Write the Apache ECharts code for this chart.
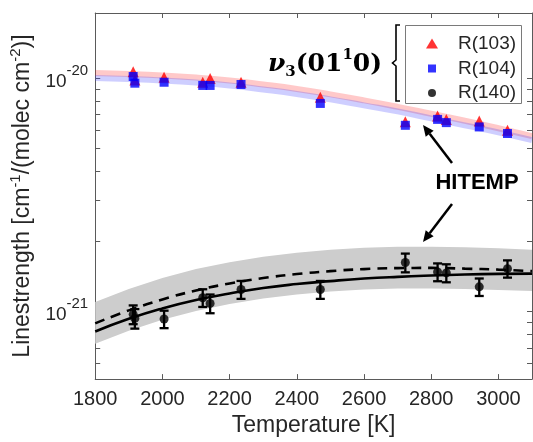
<!DOCTYPE html>
<html><head><meta charset="utf-8">
<script src="https://cdn.jsdelivr.net/npm/echarts@6/dist/echarts.min.js"></script>
<style>html,body{margin:0;padding:0;background:#fff}#c{width:533px;height:442px}</style>
</head><body><div id="c"></div>
<script>
// ---- measured data ----
const measTemps = [1913, 1918, 2005, 2120, 2142, 2234, 2470, 2723, 2819, 2845, 2943, 3027];
const r103 = [1.068e-20, 0.985e-20, 1.013e-20, 0.964e-20, 1.000e-20, 0.964e-20, 0.832e-20, 0.653e-20, 0.690e-20, 0.668e-20, 0.657e-20, 0.600e-20];
const r104 = [1.020e-20, 0.955e-20, 0.964e-20, 0.934e-20, 0.934e-20, 0.943e-20, 0.782e-20, 0.630e-20, 0.668e-20, 0.647e-20, 0.620e-20, 0.581e-20];
const r140 = [0.974e-21, 0.936e-21, 0.930e-21, 1.148e-21, 1.085e-21, 1.245e-21, 1.245e-21, 1.625e-21, 1.481e-21, 1.467e-21, 1.278e-21, 1.530e-21];
const r140Err = [0.09e-21, 0.09e-21, 0.08e-21, 0.10e-21, 0.10e-21, 0.11e-21, 0.11e-21, 0.15e-21, 0.13e-21, 0.13e-21, 0.11e-21, 0.13e-21];
// ---- model curves ----
const curveTemps = [1800, 1900, 2000, 2100, 2200, 2300, 2400, 2500, 2600, 2700, 2800, 2900, 3000, 3100];
const hitemp103 = [1.056e-20, 1.045e-20, 1.030e-20, 1.010e-20, 0.981e-20, 0.943e-20, 0.902e-20, 0.855e-20, 0.806e-20, 0.756e-20, 0.706e-20, 0.659e-20, 0.612e-20, 0.566e-20];
const hitemp104 = [1.005e-20, 0.995e-20, 0.981e-20, 0.961e-20, 0.934e-20, 0.898e-20, 0.859e-20, 0.814e-20, 0.767e-20, 0.723e-20, 0.675e-20, 0.630e-20, 0.588e-20, 0.544e-20];
const fit140 = [0.822e-21, 0.932e-21, 1.033e-21, 1.123e-21, 1.197e-21, 1.264e-21, 1.314e-21, 1.353e-21, 1.387e-21, 1.411e-21, 1.429e-21, 1.443e-21, 1.453e-21, 1.457e-21];
const hitemp140 = [0.891e-21, 1.013e-21, 1.128e-21, 1.233e-21, 1.321e-21, 1.394e-21, 1.450e-21, 1.493e-21, 1.523e-21, 1.538e-21, 1.541e-21, 1.530e-21, 1.515e-21, 1.493e-21];
const hitemp140Hi = [1.101e-21, 1.251e-21, 1.394e-21, 1.523e-21, 1.631e-21, 1.722e-21, 1.791e-21, 1.845e-21, 1.881e-21, 1.900e-21, 1.900e-21, 1.891e-21, 1.872e-21, 1.845e-21];
const hitemp140Lo = [0.729e-21, 0.828e-21, 0.923e-21, 1.008e-21, 1.080e-21, 1.140e-21, 1.185e-21, 1.221e-21, 1.245e-21, 1.257e-21, 1.257e-21, 1.251e-21, 1.239e-21, 1.227e-21];
// ---- axes ----
const xMin = 1800, xMax = 3100, xStep = 200;
const yMin = 5.14e-22, yMax = 1.91e-20;
const yLabelValues = [1e-21, 1e-20];
const yTickValues = [6e-22, 7e-22, 8e-22, 9e-22, 1e-21, 2e-21, 3e-21, 4e-21, 5e-21, 6e-21, 7e-21, 8e-21, 9e-21, 1e-20];

const FONT = '"Liberation Sans", Arial, sans-serif';
const TXT = '#262626';
const AX = '#5a5a5a';

const chart = echarts.init(document.getElementById('c'), null, {renderer: 'canvas'});

const zip = (xs, ys) => xs.map((x, i) => [x, ys[i]]);

function arrow(x1, y1, x2, y2) {
  const ang = Math.atan2(y2 - y1, x2 - x1), L = 11, W = 5;
  const bx = x2 - L * Math.cos(ang), by = y2 - L * Math.sin(ang);
  const px = -Math.sin(ang) * W, py = Math.cos(ang) * W;
  return [
    {type: 'line', shape: {x1: x1, y1: y1, x2: bx, y2: by}, style: {stroke: '#000', lineWidth: 2.5}},
    {type: 'polygon', shape: {points: [[x2, y2], [bx + px, by + py], [bx - px, by - py]]}, style: {fill: '#000'}}
  ];
}

function legendFor(name, left, top, w, h, padLeft) {
  return {
    orient: 'vertical', padding: 0, itemWidth: w, itemHeight: h, itemGap: 0,
    left: left, top: top, selectedMode: false, data: [name],
    textStyle: {fontFamily: FONT, fontSize: 19, color: TXT, lineHeight: 20, padding: [0, 0, 0, padLeft]}
  };
}

const option = {
  backgroundColor: '#fff',
  animation: false,
  grid: {left: 95, top: 13, right: 1, bottom: 61, show: false},
  legend: [
    legendFor('R(103)', 426, 33.5, 12, 10, 15),
    legendFor('R(104)', 428, 58.5, 8, 8, 17),
    legendFor('R(140)', 428, 83, 8, 8, 17)
  ],
  xAxis: [
    {
      type: 'value', min: xMin, max: xMax, interval: xStep, position: 'bottom',
      axisLine: {show: true, onZero: false, lineStyle: {color: AX, width: 1}},
      axisTick: {show: true, inside: true, length: 5, lineStyle: {color: AX}},
      axisLabel: {fontFamily: FONT, fontSize: 20, color: TXT, margin: 10, showMaxLabel: false, formatter: v => String(v)},
      splitLine: {show: false},
      name: 'Temperature [K]', nameLocation: 'middle', nameGap: 34,
      nameTextStyle: {fontFamily: FONT, fontSize: 23, color: TXT}
    },
    {
      type: 'value', min: xMin, max: xMax, interval: xStep, position: 'top',
      axisLine: {show: true, onZero: false, lineStyle: {color: AX, width: 1}},
      axisTick: {show: true, inside: true, length: 5, lineStyle: {color: AX}},
      axisLabel: {show: false}, splitLine: {show: false}
    }
  ],
  yAxis: [
    {
      type: 'log', logBase: 10, min: yMin, max: yMax, position: 'left',
      axisLine: {show: true, onZero: false, lineStyle: {color: AX, width: 1}},
      axisTick: {show: true, inside: true, length: 5, customValues: yTickValues, lineStyle: {color: AX}},
      axisLabel: {
        customValues: yLabelValues, margin: 7,
        formatter: v => '{b|10}{s|' + Math.round(Math.log10(v)) + '}',
        rich: {
          b: {fontFamily: FONT, fontSize: 19, color: TXT, lineHeight: 26, padding: [6, 0, 0, 0]},
          s: {fontFamily: FONT, fontSize: 15, color: TXT, lineHeight: 14, padding: [0, 0, 13, 0], verticalAlign: 'bottom'}
        }
      },
      minorTick: {show: false}, splitLine: {show: false},
      name: '{n|Linestrength [cm}{s|-1}{n|/(molec cm}{s|-2}{n|)]}',
      nameLocation: 'middle', nameGap: 57, nameRotate: 90,
      nameTextStyle: {
        fontFamily: FONT, fontSize: 23, color: TXT,
        rich: {
          n: {fontFamily: FONT, fontSize: 23, color: TXT, lineHeight: 30},
          s: {fontFamily: FONT, fontSize: 15, color: TXT, lineHeight: 15, verticalAlign: 'top'}
        }
      }
    },
    {
      type: 'log', logBase: 10, min: yMin, max: yMax, position: 'right',
      axisLine: {show: true, onZero: false, lineStyle: {color: AX, width: 1}},
      axisTick: {show: true, inside: true, length: 5, customValues: yTickValues, lineStyle: {color: AX}},
      axisLabel: {show: false}, splitLine: {show: false}
    }
  ],
  series: [
    {
      name: 'HITEMP R(140) band', type: 'custom', clip: true, z: 1,
      data: curveTemps.map((t, i) => [t, hitemp140Lo[i], hitemp140Hi[i]]),
      encode: {x: 0, y: [1, 2]},
      renderItem: function (params, api) {
        if (params.dataIndex !== 0) return null;
        const pts = [];
        for (let i = 0; i < curveTemps.length; i++) pts.push(api.coord([curveTemps[i], hitemp140Hi[i]]));
        for (let i = curveTemps.length - 1; i >= 0; i--) pts.push(api.coord([curveTemps[i], hitemp140Lo[i]]));
        return {type: 'polygon', shape: {points: pts}, style: {fill: '#cdcdcd'}};
      }
    },
    {
      name: 'HITEMP R(103)', type: 'line', smooth: true, symbol: 'none', z: 2,
      data: zip(curveTemps, hitemp103),
      lineStyle: {color: 'rgba(255,60,60,0.28)', width: 6}
    },
    {
      name: 'HITEMP R(104)', type: 'line', smooth: true, symbol: 'none', z: 2,
      data: zip(curveTemps, hitemp104),
      lineStyle: {color: 'rgba(60,60,255,0.25)', width: 6}
    },
    {
      name: 'Fit R(140)', type: 'line', smooth: true, symbol: 'none', z: 3,
      data: zip(curveTemps, fit140),
      lineStyle: {color: '#000', width: 2.6}
    },
    {
      name: 'HITEMP R(140)', type: 'line', smooth: true, symbol: 'none', z: 3,
      data: zip(curveTemps, hitemp140),
      lineStyle: {color: '#000', width: 2.6, type: [10, 7]}
    },
    {
      name: 'R(103)', type: 'scatter', symbol: 'triangle', symbolSize: 11, z: 5,
      data: zip(measTemps, r103), itemStyle: {color: '#ff0000'}
    },
    {
      name: 'R(104)', type: 'scatter', symbol: 'rect', symbolSize: 9, z: 6,
      data: zip(measTemps, r104), itemStyle: {color: '#0000ff'}
    },
    {
      name: 'R(140) error', type: 'custom', z: 6,
      data: measTemps.map((t, i) => [t, r140[i] - r140Err[i], r140[i] + r140Err[i]]),
      encode: {x: 0, y: [1, 2]},
      renderItem: function (params, api) {
        const x = api.value(0);
        const a = api.coord([x, api.value(1)]), b = api.coord([x, api.value(2)]);
        const cw = 4.5, st = {stroke: '#000', lineWidth: 2.3};
        return {type: 'group', children: [
          {type: 'line', shape: {x1: a[0], y1: a[1], x2: b[0], y2: b[1]}, style: st},
          {type: 'line', shape: {x1: a[0] - cw, y1: a[1], x2: a[0] + cw, y2: a[1]}, style: st},
          {type: 'line', shape: {x1: b[0] - cw, y1: b[1], x2: b[0] + cw, y2: b[1]}, style: st}
        ]};
      }
    },
    {
      name: 'R(140)', type: 'scatter', symbol: 'circle', symbolSize: 9, z: 7,
      data: zip(measTemps, r140), itemStyle: {color: '#000'}
    }
  ],
  graphic: [
    {type: 'rect', shape: {x: 405.5, y: 25.5, width: 116, height: 78}, style: {fill: 'none', stroke: '#7a7a7a', lineWidth: 1}, z: 10},
    {type: 'polyline', shape: {points: [[400, 25], [396, 25], [396, 60], [392.5, 63], [396, 66], [396, 101], [400, 101]]}, style: {stroke: '#000', lineWidth: 1.6, fill: 'none'}, z: 10},
    {type: 'text', x: 268, y: 64, z: 10, style: {
      text: '{nu|ν}{sub|3}{p|(01}{sup|1}{p|0)}', verticalAlign: 'middle', align: 'left',
      rich: {
        nu: {fontFamily: '"DejaVu Serif"', fontWeight: 'bold', fontStyle: 'italic', fontSize: 25, lineHeight: 32, fill: '#000'},
        sub: {fontFamily: '"DejaVu Serif"', fontWeight: 'bold', fontSize: 15, lineHeight: 16, verticalAlign: 'bottom', fill: '#000'},
        p: {fontFamily: '"DejaVu Serif"', fontWeight: 'bold', fontSize: 25, lineHeight: 32, fill: '#000'},
        sup: {fontFamily: '"DejaVu Serif"', fontWeight: 'bold', fontSize: 15, lineHeight: 16, verticalAlign: 'top', fill: '#000'}
      }
    }},
    {type: 'text', x: 477, y: 183, z: 10, style: {text: 'HITEMP', font: 'bold 22px "Liberation Sans", Arial, sans-serif', fill: '#000', align: 'center', verticalAlign: 'middle'}}
  ].concat(arrow(452, 163, 423, 125), arrow(452, 204, 423, 242))
};
chart.setOption(option);
</script>
</body></html>
